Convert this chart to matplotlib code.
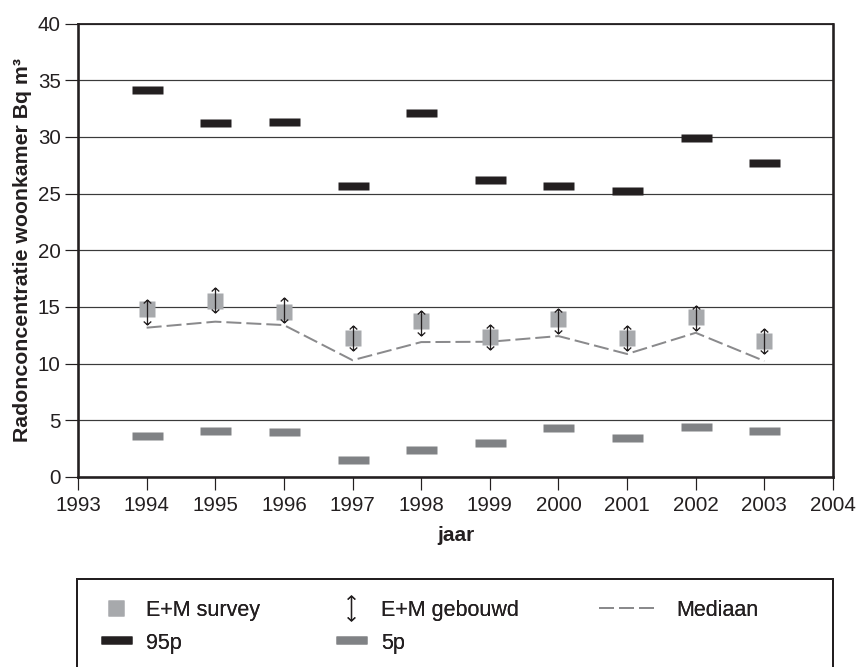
import matplotlib
matplotlib.use("Agg")
import matplotlib.pyplot as plt
import numpy as np
from matplotlib.path import Path
from matplotlib.patches import Rectangle

plt.rcParams['font.family'] = ['Liberation Sans', 'DejaVu Sans']

# ---- data ----
years = [1994, 1995, 1996, 1997, 1998, 1999, 2000, 2001, 2002, 2003]
em_survey = [14.8, 15.5, 14.55, 12.27, 13.77, 12.36, 13.95, 12.27, 14.13, 12.0]
em_gebouwd = [14.57, 15.65, 14.74, 12.26, 13.58, 12.37, 13.73, 12.26, 14.0, 11.99]
mediaan = [13.17, 13.7, 13.4, 10.3, 11.9, 11.93, 12.43, 10.85, 12.72, 10.23]
p95 = [34.14, 31.2, 31.3, 25.68, 32.1, 26.2, 25.68, 25.24, 29.9, 27.7]
p5 = [3.64, 4.08, 4.0, 1.5, 2.4, 3.0, 4.35, 3.4, 4.4, 4.1]
x_ticks = list(range(1993, 2005))
y_ticks = [0, 5, 10, 15, 20, 25, 30, 35, 40]
xlabel = "jaar"
ylabel = "Radonconcentratie woonkamer Bq m³"
labels = ["E+M survey", "E+M gebouwd", "Mediaan", "95p", "5p"]

TXT = '#231f20'
DPI = 100
W, H = 860, 667
fig = plt.figure(figsize=(W / DPI, H / DPI), dpi=DPI)
px = 72.0 / DPI  # points per pixel

L, R, T, B = 78, 833, 23.5, 477
ax = fig.add_axes([L / W, 1 - B / H, (R - L) / W, (B - T) / H])

# marker shapes
bar_path = Path([(-1, -0.25), (1, -0.25), (1, 0.25), (-1, 0.25), (-1, -0.25)],
                [Path.MOVETO, Path.LINETO, Path.LINETO, Path.LINETO, Path.CLOSEPOLY])
hw, hh = 0.3, 0.72
arrow_path = Path([(0, -1), (0, 1),
                   (-hw, hh), (0, 1), (hw, hh),
                   (-hw, -hh), (0, -1), (hw, -hh)],
                  [Path.MOVETO, Path.LINETO,
                   Path.MOVETO, Path.LINETO, Path.LINETO,
                   Path.MOVETO, Path.LINETO, Path.LINETO])

h_med, = ax.plot(years, mediaan, color='#8a8a8c', lw=2 * px, dashes=(7.5, 2.5),
                 zorder=3, label=labels[2])
h_sur, = ax.plot(years, em_survey, ls='none', marker='s', ms=16 * px,
                 mfc='#a7a9ac', mec='none', zorder=4, label=labels[0])
h_geb, = ax.plot(years, em_gebouwd, ls='none', marker=arrow_path, ms=25 * px,
                 mfc='none', mec='#231f20', mew=1.3 * px, zorder=5, label=labels[1])
h_95, = ax.plot(years, p95, ls='none', marker=bar_path, ms=31 * px,
                mfc='#231f20', mec='none', zorder=4, label=labels[3])
h_5, = ax.plot(years, p5, ls='none', marker=bar_path, ms=31 * px,
               mfc='#808285', mec='none', zorder=4, label=labels[4])

ax.set_xlim(1993, 2004)
ax.set_ylim(0, 40)
ax.set_xticks(x_ticks)
ax.set_yticks(y_ticks)
ax.yaxis.grid(True, color='#3a3a3a', lw=1.2 * px)
ax.set_axisbelow(True)
for s in ['left', 'bottom', 'right']:
    ax.spines[s].set_linewidth(2.6 * px)
    ax.spines[s].set_color(TXT)
ax.spines['top'].set_linewidth(1.8 * px)
ax.spines['top'].set_color(TXT)
ax.tick_params(axis='both', direction='out', length=13 * px, width=1.2 * px,
               color=TXT, labelcolor=TXT, labelsize=14.8)
ax.tick_params(axis='x', pad=4)
ax.tick_params(axis='y', pad=3)

ax.set_xlabel(xlabel, fontsize=15, fontweight='bold', color=TXT, labelpad=8)
ax.set_ylabel(ylabel, fontsize=15.3, fontweight='bold', color=TXT, labelpad=4)

# legend frame (bottom edge falls outside the figure)
top_px = 578.7
fig.patches.append(Rectangle((77 / W, -0.1), (833 - 77) / W, (H - top_px) / H + 0.1,
                             transform=fig.transFigure, fill=False,
                             edgecolor=TXT, lw=2 * px, zorder=10))

fs = 15.5
fs_px = fs / px
def add_leg(handles, lab, x_px, hlen_px, pad_px):
    lg = fig.legend(handles, lab, loc='upper left',
                    bbox_to_anchor=(x_px / W, 1 - 599 / H),
                    frameon=False, borderpad=0, borderaxespad=0,
                    fontsize=fs, handlelength=hlen_px / fs_px,
                    handletextpad=pad_px / fs_px, labelspacing=0.5,
                    handleheight=1.0)
    for t in lg.get_texts():
        t.set_color(TXT)
    fig.add_artist(lg)
    return lg

add_leg([h_sur, h_95], [labels[0], labels[3]], 100, 31, 15)
add_leg([h_geb, h_5], [labels[1], labels[4]], 335, 31, 15)
add_leg([h_med], [labels[2]], 599, 60, 17)

fig.savefig('out.png', dpi=DPI)
